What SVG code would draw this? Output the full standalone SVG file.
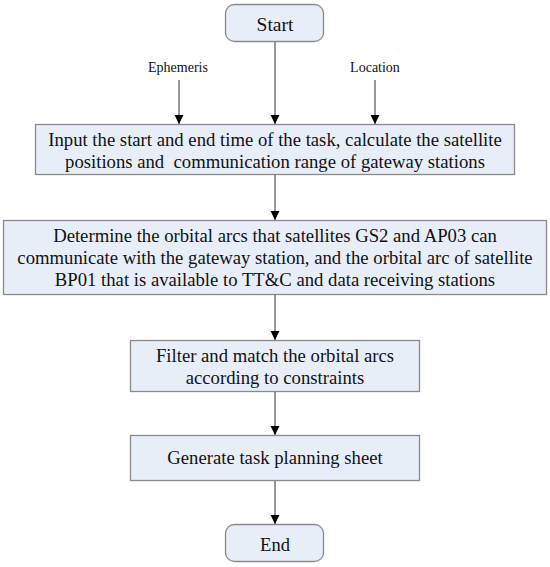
<svg xmlns="http://www.w3.org/2000/svg" width="550" height="567" viewBox="0 0 550 567">
<defs>
<style>
.box{fill:#e8eef8;stroke:#8a8a8a;stroke-width:1.3}
.t{font-family:"Liberation Serif","Times New Roman",serif;font-size:18.7px;fill:#111;text-anchor:middle}
.s{font-family:"Liberation Serif","Times New Roman",serif;font-size:14px;fill:#111;text-anchor:middle}
.ln{stroke:#333;stroke-width:1;fill:none;marker-end:url(#ah)}
</style>
<marker id="ah" viewBox="0 0 10 10" refX="10" refY="5" markerWidth="9" markerHeight="13" markerUnits="userSpaceOnUse" orient="auto">
<path d="M0,0 L10,5 L0,10 z" fill="#000"/>
</marker>
</defs>
<rect width="550" height="567" fill="#fff"/>
<g id="start"><rect class="box" x="225.5" y="4.5" width="98" height="37" rx="9"/><text class="t" x="275" y="30.5" style="font-size:19.5px">Start</text></g>
<g id="ephemeris"><text class="s" x="178" y="72">Ephemeris</text></g>
<g id="location"><text class="s" x="375" y="72">Location</text></g>
<g id="box1"><rect class="box" x="35.5" y="124.5" width="479" height="50"/>
<text class="t" x="275" y="145.5">Input the start and end time of the task, calculate the satellite</text>
<text class="t" x="275" y="167.5" xml:space="preserve">positions and  communication range of gateway stations</text></g>
<g id="box2"><rect class="box" x="3.5" y="220.5" width="543" height="74"/>
<text class="t" x="275" y="242">Determine the orbital arcs that satellites GS2 and AP03 can</text>
<text class="t" x="275" y="263.5">communicate with the gateway station, and the orbital arc of satellite</text>
<text class="t" x="275" y="286">BP01 that is available to TT&amp;C and data receiving stations</text></g>
<g id="box3"><rect class="box" x="130.5" y="340.5" width="289" height="51"/>
<text class="t" x="275" y="361.5">Filter and match the orbital arcs</text>
<text class="t" x="275" y="384">according to constraints</text></g>
<g id="box4"><rect class="box" x="130.5" y="435.5" width="289" height="45"/>
<text class="t" x="275" y="464">Generate task planning sheet</text></g>
<g id="end"><rect class="box" x="225.5" y="524.5" width="98" height="37" rx="9"/><text class="t" x="275" y="550.5" style="font-size:18.5px">End</text></g>
<g id="connectors">
<line class="ln" x1="275" y1="42" x2="275" y2="124"/>
<line class="ln" x1="179" y1="80" x2="179" y2="124"/>
<line class="ln" x1="375" y1="80" x2="375" y2="124"/>
<line class="ln" x1="275" y1="175" x2="275" y2="220"/>
<line class="ln" x1="275" y1="295" x2="275" y2="340"/>
<line class="ln" x1="275" y1="392" x2="275" y2="435"/>
<line class="ln" x1="275" y1="481" x2="275" y2="524"/>
</g>
</svg>
